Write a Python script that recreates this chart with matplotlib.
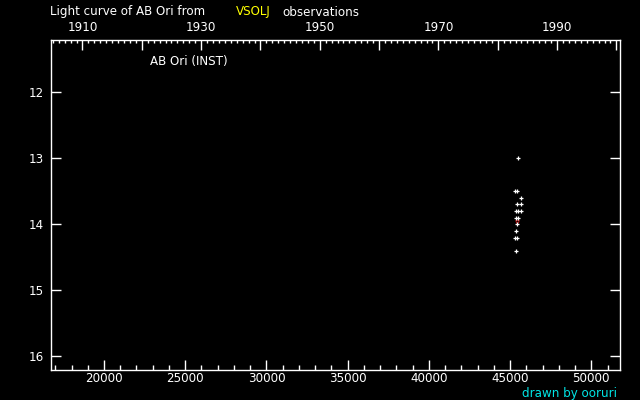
import numpy as np
import matplotlib.pyplot as plt
from matplotlib.ticker import FixedLocator, MultipleLocator, NullFormatter

# Observations (JD - 2400000, magnitude)
obs_jd = [45505, 45320, 45443, 45689, 45443, 45689, 45345, 45468, 45689,
          45380, 45505, 45406, 45381, 45320, 45443, 45381]
obs_mag = [13.0, 13.5, 13.5, 13.6, 13.7, 13.7, 13.8, 13.8, 13.8,
           13.9, 13.9, 14.0, 14.1, 14.2, 14.2, 14.4]
# fainter-than mark
lim_jd = [45443]
lim_mag = [13.96]

year_labels = [1910, 1930, 1950, 1970, 1990]
year_major = list(range(1900, 2010, 10))
year_minor = list(range(1900, 2010, 1))


def year_to_jd(y):
    return 15020.5 + (np.asarray(y) - 1900) * 365.25


W, H = 640, 400
FS = 8.6
fig = plt.figure(figsize=(W / 100, H / 100), dpi=100, facecolor='black')
ax = fig.add_axes([50.5 / W, (H - 370.3) / H, 569.5 / W, 330.3 / H])
ax.set_facecolor('black')

ax.set_xlim(16706, 51767)
ax.set_ylim(16.21, 11.21)

ax.plot(obs_jd, obs_mag, linestyle='none', marker='+', color='white',
        markersize=3.2, markeredgewidth=0.9, zorder=3)
ax.plot(lim_jd, lim_mag, linestyle='none', marker='v', markerfacecolor='none',
        markeredgecolor='#d01010', markersize=2.6, markeredgewidth=0.6, zorder=2)

for s in ax.spines.values():
    s.set_color('white')
    s.set_linewidth(1.0)

ax.xaxis.set_major_locator(MultipleLocator(5000))
ax.xaxis.set_minor_locator(MultipleLocator(1000))
ax.yaxis.set_major_locator(MultipleLocator(1))
ax.tick_params(axis='x', which='both', direction='in', colors='white',
               bottom=True, top=False, labelsize=FS, pad=1.5, width=1)
ax.tick_params(axis='x', which='major', length=7.2)
ax.tick_params(axis='x', which='minor', length=3.6)
ax.tick_params(axis='y', which='major', direction='in', colors='white',
               left=True, right=True, length=7.2, width=1, labelsize=FS, pad=5)

# top axis in years
ax2 = ax.twiny()
ax2.set_xlim(ax.get_xlim())
ax2.xaxis.set_major_locator(FixedLocator(year_to_jd(year_major)))
ax2.xaxis.set_minor_locator(FixedLocator(year_to_jd(year_minor)))
ax2.set_xticklabels([str(y) if y in year_labels else '' for y in year_major])
ax2.xaxis.set_minor_formatter(NullFormatter())
ax2.tick_params(axis='x', which='both', direction='in', colors='white',
                top=True, bottom=False, labelsize=FS, pad=4, width=1)
ax2.tick_params(axis='x', which='major', length=7.2)
ax2.tick_params(axis='x', which='minor', length=2.4)
for s in ax2.spines.values():
    s.set_visible(False)

fig.text(50 / W, 1 - 12 / H, 'Light curve of AB Ori from', color='white',
         fontsize=FS, ha='left', va='center')
fig.text(236 / W, 1 - 12 / H, 'VSOLJ', color='#ffff00',
         fontsize=FS, ha='left', va='center')
fig.text(282 / W, 1 - 12 / H, 'observations', color='white',
         fontsize=FS, ha='left', va='center')
fig.text(150 / W, 1 - 61 / H, 'AB Ori (INST)', color='white',
         fontsize=FS, ha='left', va='center')
fig.text(617 / W, 1 - 393 / H, 'drawn by ooruri', color='#00e5e5',
         fontsize=FS, ha='right', va='center')

fig.savefig('out.png', dpi=100, facecolor='black')
